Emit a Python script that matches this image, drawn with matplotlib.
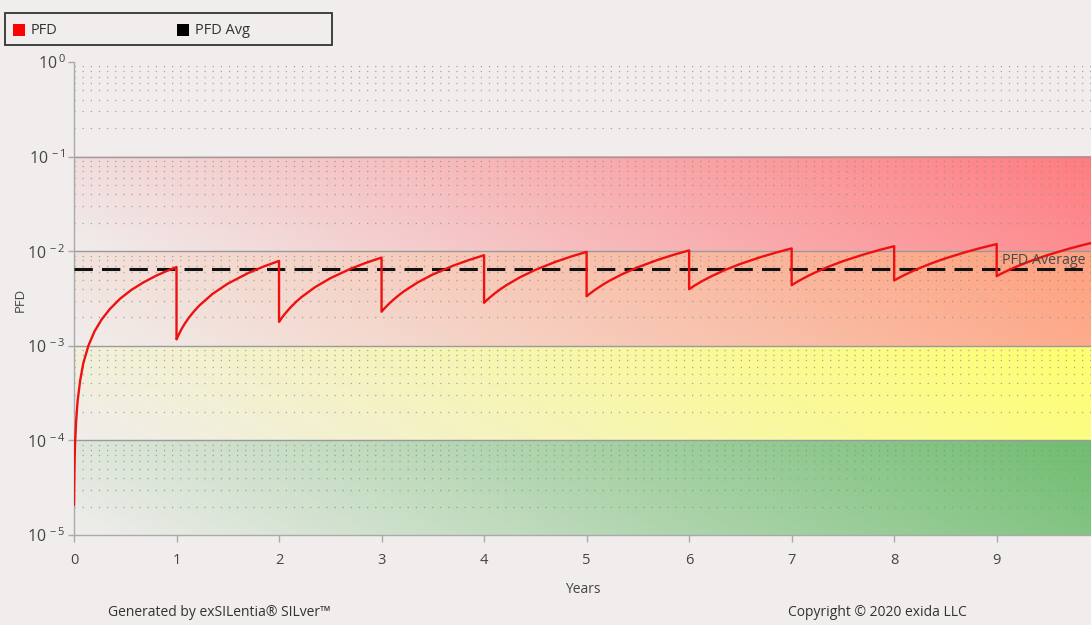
import numpy as np
import matplotlib
matplotlib.use("Agg")
import matplotlib.pyplot as plt
from matplotlib.patches import Rectangle
from matplotlib.colors import to_rgb
from matplotlib.ticker import FixedLocator, FuncFormatter, NullFormatter

plt.rcParams['font.family'] = ['Open Sans', 'DejaVu Sans']
plt.rcParams['mathtext.fontset'] = 'custom'
plt.rcParams['mathtext.rm'] = 'Open Sans'
plt.rcParams['mathtext.it'] = 'Open Sans'
plt.rcParams['axes.unicode_minus'] = False

# ---------------- data ----------------
first_years = [0, 0.002, 0.005, 0.01, 0.02, 0.035, 0.06, 0.09, 0.14, 0.2, 0.27,
               0.35, 0.45, 0.56, 0.68, 0.8, 0.9, 1.0]
first_pfd = [2.1e-5, 3.4e-5, 5.5e-5, 9.0e-5, 1.55e-4, 2.6e-4, 4.3e-4, 6.5e-4, 1.0e-3,
             1.42e-3, 1.9e-3, 2.45e-3, 3.15e-3, 3.9e-3, 4.7e-3, 5.5e-3, 6.15e-3, 6.8e-3]

tooth_offsets = [0, 0.02, 0.05, 0.08, 0.12, 0.17, 0.22, 0.35, 0.5, 0.7, 0.85, 1.0]
last_tooth_offsets = [0, 0.02, 0.05, 0.08, 0.12, 0.17, 0.22, 0.35, 0.5, 0.7, 0.85, 0.92]
tooth_starts = [1, 2, 3, 4, 5, 6, 7, 8, 9]
pfd_teeth_e3 = [  # PFD values in units of 1e-3
    [1.17, 1.30, 1.51, 1.71, 1.98, 2.31, 2.65, 3.53, 4.54, 5.88, 6.89, 7.90],
    [1.79, 1.93, 2.13, 2.33, 2.60, 2.94, 3.28, 4.16, 5.18, 6.54, 7.55, 8.57],
    [2.29, 2.43, 2.63, 2.83, 3.10, 3.44, 3.78, 4.66, 5.68, 7.04, 8.05, 9.07],
    [2.85, 2.99, 3.20, 3.41, 3.69, 4.04, 4.39, 5.30, 6.35, 7.74, 8.79, 9.84],
    [3.34, 3.48, 3.68, 3.89, 4.16, 4.51, 4.85, 5.74, 6.77, 8.14, 9.17, 10.2],
    [3.97, 4.10, 4.31, 4.51, 4.78, 5.11, 5.45, 6.33, 7.34, 8.68, 9.69, 10.7],
    [4.37, 4.51, 4.72, 4.92, 5.20, 5.55, 5.89, 6.80, 7.84, 9.22, 10.26, 11.3],
    [4.90, 5.04, 5.25, 5.46, 5.74, 6.09, 6.44, 7.35, 8.40, 9.80, 10.85, 11.9],
    [5.45, 5.60, 5.82, 6.04, 6.33, 6.70, 7.06, 8.02, 9.12, 10.59, 11.69, 12.2],
]
pfd_average = 6.45e-3

x_ticks = [0, 1, 2, 3, 4, 5, 6, 7, 8, 9]
y_ticks = [1e-5, 1e-4, 1e-3, 1e-2, 1e-1, 1e0]

band_edges = [(1e-5, 1e-4), (1e-4, 1e-3), (1e-3, 1e-2), (1e-2, 1e-1)]
band_colors = ['#70bd70', '#ffff70', '#ffa07c', '#ff7c80']

legend_labels = ['PFD', 'PFD Avg']
legend_colors = ['#ff0000', '#000000']

# ---------------- figure ----------------
W, H = 1091, 625
BG = '#f0edec'
fig = plt.figure(figsize=(W / 100, H / 100), dpi=100, facecolor=BG)

ax_left, ax_right, ax_top, ax_bot = 74, 1091, 62, 535
rect = [ax_left / W, 1 - ax_bot / H, (ax_right - ax_left) / W, (ax_bot - ax_top) / H]

# background gradient axes
bg_ax = fig.add_axes(rect, zorder=0)
bg_ax.set_xlim(0, 1)
bg_ax.set_ylim(0, 1)
bg_ax.axis('off')
ymin_log, ymax_log = np.log10(y_ticks[0]), np.log10(y_ticks[-1])
bg_rgb = np.array(to_rgb(BG))
nx, ny = 300, 60
X = np.linspace(0, 1, nx)[None, :]
Yb = np.linspace(0, 1, ny)[:, None]
for (lo, hi), col in zip(band_edges, band_colors):
    s = np.clip(0.85 * X + 0.15 * Yb, 0, 1)
    img = bg_rgb[None, None, :] + (np.array(to_rgb(col)) - bg_rgb)[None, None, :] * s[:, :, None]
    f0 = (np.log10(lo) - ymin_log) / (ymax_log - ymin_log)
    f1 = (np.log10(hi) - ymin_log) / (ymax_log - ymin_log)
    bg_ax.imshow(img, extent=(0, 1, f0, f1), origin='lower', aspect='auto',
                 interpolation='bilinear', zorder=0)

ax = fig.add_axes(rect, zorder=1)
ax.set_facecolor('none')
ax.set_yscale('log')
ax.set_xlim(0, 9.92)
ax.set_ylim(y_ticks[0], y_ticks[-1])

# grid lines
for v in y_ticks[1:-1]:
    ax.axhline(v, color='#9a9a9a', lw=1.0, zorder=2)
for dec in range(-5, 0):
    for m in range(2, 10):
        ax.axhline(m * 10.0 ** dec, color='#8c8c8c', lw=0.9, ls=(0, (1, 5.5)),
                   alpha=0.75, zorder=2)

# PFD curve
xs = list(first_years)
ys = list(first_pfd)
for i, (k, row) in enumerate(zip(tooth_starts, pfd_teeth_e3)):
    offs = last_tooth_offsets if i == len(pfd_teeth_e3) - 1 else tooth_offsets
    xs += [k + o for o in offs]
    ys += [v * 1e-3 for v in row]
ax.plot(xs, ys, color='#ee1111', lw=1.7, zorder=4, solid_joinstyle='round')

# PFD average
ax.axhline(pfd_average, color='#111111', lw=2.2, ls=(0, (6, 3)), zorder=3)
ax.text(9.05, pfd_average * 1.04, 'PFD Average', fontsize=10.3, color='#4a4a4a',
        va='bottom', ha='left', zorder=5)

# axes styling
for sp in ['top', 'right']:
    ax.spines[sp].set_visible(False)
for sp in ['left', 'bottom']:
    ax.spines[sp].set_color('#aaaaaa')
    ax.spines[sp].set_linewidth(1.0)
ax.xaxis.set_major_locator(FixedLocator(x_ticks))
ax.yaxis.set_major_locator(FixedLocator(y_ticks))
ax.yaxis.set_minor_locator(FixedLocator([]))
ax.yaxis.set_minor_formatter(NullFormatter())


def yfmt(v, pos):
    e = int(round(np.log10(v)))
    return r'$10^{\,%d}$' % e


ax.yaxis.set_major_formatter(FuncFormatter(yfmt))
ax.tick_params(axis='y', length=4, width=1, color='#aaaaaa', labelsize=11.5,
               labelcolor='#444444', pad=2)
ax.tick_params(axis='x', length=5, width=1, color='#aaaaaa', labelsize=10.5,
               labelcolor='#444444', pad=8)

ax.set_xlabel('Years', fontsize=10, color='#444444', labelpad=10)
fig.text(20 / W, 1 - 300 / H, 'PFD', rotation=90, fontsize=9.5, color='#444444',
         ha='center', va='center')

# legend box
fig.patches.append(Rectangle((5 / W, 1 - 45 / H), 327 / W, 32 / H, transform=fig.transFigure,
                             facecolor=BG, edgecolor='#333333', lw=1.3, zorder=10))
leg_x = [13, 177]
for lx, lab, col in zip(leg_x, legend_labels, legend_colors):
    fig.patches.append(Rectangle((lx / W, 1 - 36 / H), 12 / W, 12 / H, transform=fig.transFigure,
                                 facecolor=col, edgecolor='none', zorder=11))
    fig.text((lx + 18) / W, 1 - 30 / H, lab, fontsize=10.5, color='#333333',
             ha='left', va='center', zorder=12)

# footer
fig.text(108 / W, 1 - 613 / H, 'Generated by exSILentia® SILver™', fontsize=10,
         color='#333333', ha='left', va='center')
fig.text(788 / W, 1 - 613 / H, 'Copyright © 2020 exida LLC', fontsize=10,
         color='#333333', ha='left', va='center')

fig.savefig('out.png', dpi=100, facecolor=BG)
